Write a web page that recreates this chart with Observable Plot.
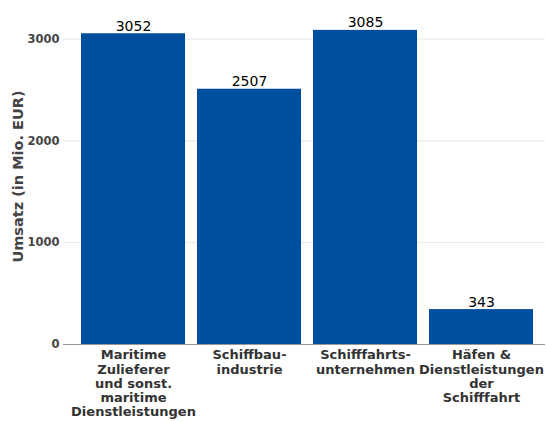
<!DOCTYPE html>
<html>
<head>
<meta charset="utf-8">
<script src="https://cdn.jsdelivr.net/npm/d3@7"></script>
<script src="https://cdn.jsdelivr.net/npm/@observablehq/plot@0.6"></script>
<style>
  html, body { margin: 0; padding: 0; background: #fff; }
  #chart svg { display: block; }
</style>
</head>
<body>
<div id="chart"></div>
<script>
const categories = ["Maritime Zulieferer und sonst. maritime Dienstleistungen", "Schiffbauindustrie", "Schifffahrtsunternehmen", "Häfen & Dienstleistungen der Schifffahrt"];
const tickLabels = ["Maritime\nZulieferer\nund sonst.\nmaritime\nDienstleistungen", "Schiffbau-\nindustrie", "Schifffahrts-\nunternehmen", "Häfen &\nDienstleistungen\nder\nSchifffahrt"];
const values = [3052, 2507, 3085, 343];
const yTicks = [0, 1000, 2000, 3000];
const yLabel = "Umsatz (in Mio. EUR)";

const data = categories.map((c, i) => ({category: c, value: values[i]}));
const labelOf = new Map(categories.map((c, i) => [c, tickLabels[i]]));

const chart = Plot.plot({
  width: 546,
  height: 421,
  marginLeft: 63,
  marginRight: 1,
  marginTop: 8,
  marginBottom: 77,
  style: {fontFamily: "DejaVu Sans, sans-serif", background: "#fff"},
  x: {domain: categories, padding: 0.1, insetLeft: 6, label: null},
  y: {domain: [0, 3300], label: null},
  marks: [
    Plot.gridY(yTicks, {stroke: "#e6e6e6", strokeOpacity: 1, strokeWidth: 1}),
    Plot.barY(data, {x: "category", y: "value", fill: "#004f9f"}),
    Plot.ruleY([0], {stroke: "#999", strokeWidth: 1}),
    Plot.text(data, {x: "category", y: "value", text: d => String(d.value), lineAnchor: "bottom", dy: -3, fontSize: 14, fill: "#000"}),
    Plot.axisY(yTicks, {tickSize: 0, tickPadding: 4, label: null, tickFormat: d => String(d), fontSize: 11.5, fontWeight: "bold", fill: "#444"}),
    Plot.axisX({tickSize: 0, tickPadding: 5, label: null, tickFormat: d => labelOf.get(d), fontSize: 13, fontWeight: "bold", fill: "#333", lineHeight: 1.08, lineAnchor: "top"}),
    Plot.text([yLabel], {frameAnchor: "left", textAnchor: "middle", dx: -45, rotate: -90, fontSize: 14.5, fontWeight: "bold", fill: "#444", text: d => d})
  ]
});
document.getElementById("chart").appendChild(chart);
</script>
</body>
</html>
